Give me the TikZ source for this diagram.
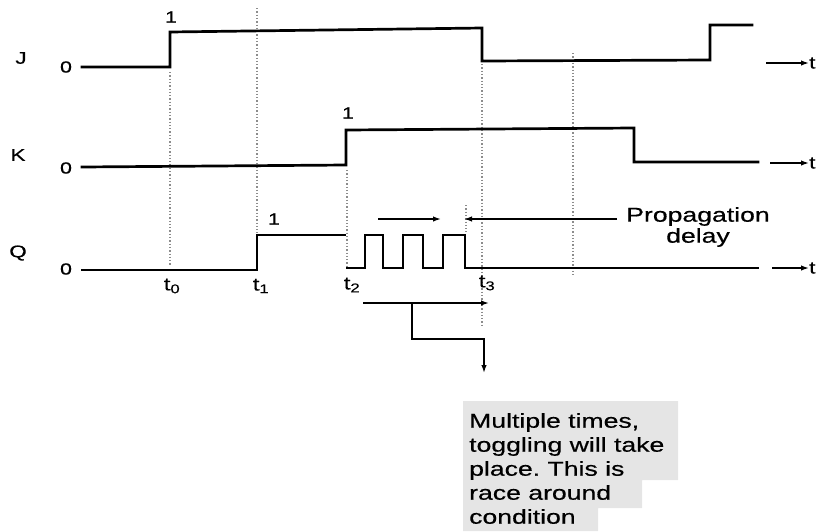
\documentclass[tikz,border=0pt]{standalone}
\usepackage{fontspec}
\setmainfont[FakeStretch=1.33,FakeBold=0.5]{Liberation Sans}
\usetikzlibrary{arrows.meta}
\frenchspacing
\begin{document}
\begin{tikzpicture}[x=1pt,y=-1pt,
  sig/.style={line width=2.7pt, line join=miter, line cap=rect},
  guide/.style={dotted, line width=1.3pt, black!45},
  arr/.style={line width=1.5pt, -{Latex[length=8pt,width=5.5pt]}},
  lbl/.style={font=\fontsize{17}{20}\selectfont, inner sep=0pt},
  lvl/.style={font=\fontsize{16}{19}\selectfont, inner sep=0pt},
  tsub/.style={font=\fontsize{18}{21}\selectfont, inner sep=0pt},
  tl/.style={font=\fontsize{17}{20}\selectfont, inner sep=0pt, anchor=west},
  note/.style={font=\fontsize{20}{24}\selectfont, inner sep=0pt, align=left, anchor=north west}]
\useasboundingbox (0,0) rectangle (819,531);
% note background
\fill[black!10] (463,401) -- (678,401) -- (678,480) -- (642,480) -- (642,508) -- (598,508) -- (598,531) -- (463,531) -- cycle;
% guides
\draw[guide] (170,72) -- (170,266);
\draw[guide] (257,8) -- (257,233);
\draw[guide] (347,170) -- (347,266);
\draw[guide] (482,64) -- (482,326);
\draw[guide] (466,205) -- (466,232);
\draw[guide] (573,53) -- (573,276);
% signal names
\node[lbl] (J) at (21,58) {J};
\node[lbl] (K) at (18,155) {K};
\node[lbl] (Q) at (18,253) {Q};
\node[lvl] (J0) at (66,67) {0};
\node[lvl] (K0) at (66,168) {0};
\node[lvl] (Q0) at (66,269) {0};
\node[lvl] (J1) at (171,17) {1};
\node[lvl] (K1) at (348,113) {1};
\node[lvl] (Q1) at (274,219) {1};
% waveforms
\draw[sig] (82,67) -- (170,67) -- (170,32) -- (482,28) -- (482,61) -- (710,60) -- (710,25) -- (752,25);
\draw[sig] (82,167) -- (346,165) -- (346,130) -- (634,128) -- (634,162) -- (758,162);
\draw[sig] (82,270) -- (257,270) -- (257,235) -- (345,235);
\draw[sig] (347,268) -- (365,268) -- (365,235) -- (383,235) -- (383,268) -- (403,268) -- (403,235)
  -- (423,235) -- (423,268) -- (443,268) -- (443,235) -- (465,235) -- (465,268) -- (758,268);
% time axes
\node[tl] (tJ) at (809,63) {t};
\node[tl] (tK) at (809,163) {t};
\node[tl] (tQ) at (809,268) {t};
\coordinate (aJ) at (766,63);
\coordinate (aK) at (770,163);
\coordinate (aQ) at (772,268);
\draw[arr] (aJ) -- (tJ.west);
\draw[arr] (aK) -- (tK.west);
\draw[arr] (aQ) -- (tQ.west);
% time labels
\node[tsub] (t0) at (172,286) {t\textsubscript{0}};
\node[tsub] (t1) at (261,286) {t\textsubscript{1}};
\node[tsub] (t2) at (352,285) {t\textsubscript{2}};
\node[tsub] (t3) at (487,283) {t\textsubscript{3}};
% propagation delay
\node[font=\fontsize{20}{21}\selectfont, inner sep=0pt, align=center] (pd) at (698,227) {Propagation\\delay};
\coordinate (pa) at (378,219);
\coordinate (pb) at (441,219);
\coordinate (pc) at (617,219);
\coordinate (pd2) at (464,219);
\draw[arr] (pa) -- (pb);
\draw[arr] (pc) -- (pd2);
% race around
\coordinate (ra) at (363,303);
\coordinate (rb) at (489,303);
\coordinate (rc) at (412,303);
\coordinate (rd) at (484,373);
\draw[arr] (ra) -- (rb);
\node[note] (txt) at (469,413) {Multiple times,\\toggling will take\\place. This is\\race around\\condition};
\draw[arr] (rc) -- (412,339) -- (484,339) -- (rd);
\end{tikzpicture}
\end{document}
